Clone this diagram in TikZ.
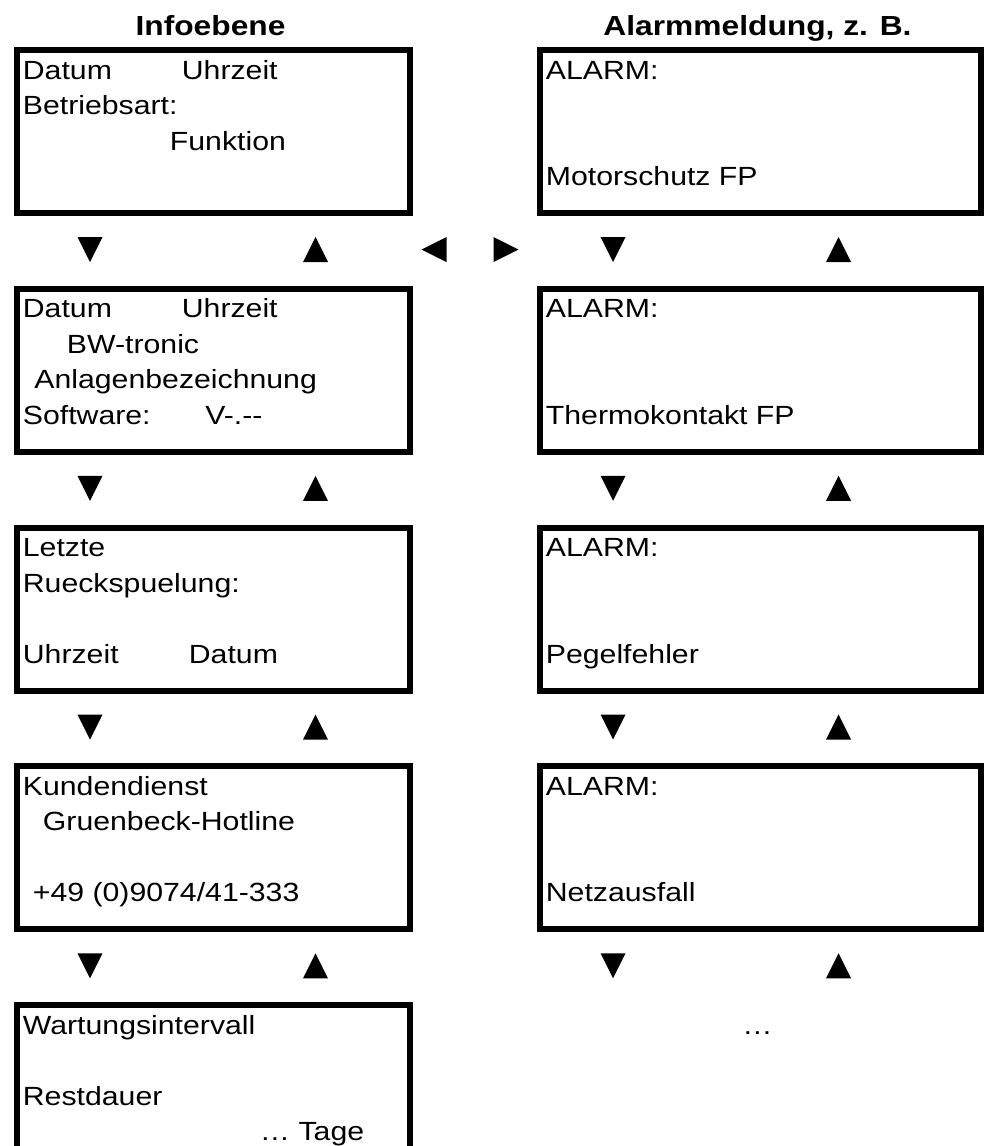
\documentclass[tikz,border=0pt]{standalone}
\usepackage{fontspec}
\setmainfont{Liberation Sans}[FakeStretch=1.15]

\tikzset{
  screen/.style={draw, line width=3pt, minimum width=196.5pt, minimum height=81.5pt, inner sep=0pt, anchor=north west},
  widescreen/.style={screen, minimum width=220.5pt},
  txt/.style={anchor=base west, inner sep=0pt, font=\fontsize{13.15}{15}\selectfont},
  head/.style={anchor=base, inner sep=0pt, font=\fontsize{13.8}{16}\selectfont\bfseries},
  navdown/.pic={\fill (-12.5,-12.5) -- (12.5,-12.5) -- (0,12.5) -- cycle;},
  navup/.pic={\fill (-12.5,12.5) -- (12.5,12.5) -- (0,-12.5) -- cycle;},
  navleft/.pic={\fill (12.5,-12.5) -- (12.5,12.5) -- (-12.5,0) -- cycle;},
  navright/.pic={\fill (-12.5,-12.5) -- (-12.5,12.5) -- (12.5,0) -- cycle;}
}
% one text line of a display: name, display, line number, text
\newcommand\scrline[4]{\node[txt] (#1) at ([shift={(8.5,{32+35.5*(#3-1)})}]#2.north west) {#4};}

\begin{document}
\begin{tikzpicture}[x=0.5pt, y=-0.5pt]
  \useasboundingbox (0,0) rectangle (984,1146);
  \clip (0,0) rectangle (984,1146);

  \node[head] (infohead) at (210.5,35) {Infoebene};
  \node[head] (alarmhead) at (757.5,35) {Alarmmeldung, z. B.};

  % Infoebene
  \node[screen] (info1) at (14,47) {};
  \node[screen] (info2) at (14,285.75) {};
  \node[screen] (info3) at (14,524.5) {};
  \node[screen] (info4) at (14,763.25) {};
  \node[screen] (info5) at (14,1002) {};

  \scrline{i1a}{info1}{1}{\makebox[79.5pt][l]{Datum}Uhrzeit}
  \scrline{i1b}{info1}{2}{Betriebsart:}
  \scrline{i1c}{info1}{3}{\hspace*{73.5pt}Funktion}

  \scrline{i2a}{info2}{1}{\makebox[79.5pt][l]{Datum}Uhrzeit}
  \scrline{i2b}{info2}{2}{\hspace*{22pt}BW-tronic}
  \scrline{i2c}{info2}{3}{\hspace*{5.75pt}Anlagenbezeichnung}
  \scrline{i2d}{info2}{4}{\makebox[91.25pt][l]{Software:}V-.-{}-}

  \scrline{i3a}{info3}{1}{Letzte}
  \scrline{i3b}{info3}{2}{Rueckspuelung:}
  \scrline{i3d}{info3}{4}{\makebox[83pt][l]{Uhrzeit}Datum}

  \scrline{i4a}{info4}{1}{Kundendienst}
  \scrline{i4b}{info4}{2}{\hspace*{10pt}Gruenbeck-Hotline}
  \scrline{i4d}{info4}{4}{\hspace*{5pt}+49 (0)9074/41-333}

  \scrline{i5a}{info5}{1}{Wartungsintervall}
  \scrline{i5c}{info5}{3}{Restdauer}
  \scrline{i5d}{info5}{4}{\hspace*{118.5pt}… Tage}

  % Alarmmeldungen
  \node[widescreen] (alarm1) at (537,47) {};
  \node[widescreen] (alarm2) at (537,285.75) {};
  \node[widescreen] (alarm3) at (537,524.5) {};
  \node[widescreen] (alarm4) at (537,763.25) {};

  \scrline{a1a}{alarm1}{1}{ALARM:}
  \scrline{a1d}{alarm1}{4}{Motorschutz FP}
  \scrline{a2a}{alarm2}{1}{ALARM:}
  \scrline{a2d}{alarm2}{4}{Thermokontakt FP}
  \scrline{a3a}{alarm3}{1}{ALARM:}
  \scrline{a3d}{alarm3}{4}{Pegelfehler}
  \scrline{a4a}{alarm4}{1}{ALARM:}
  \scrline{a4d}{alarm4}{4}{Netzausfall}
  \node[txt, anchor=base] (alarmmore) at (757.5,1034) {…};

  % Tasten
  \foreach \y [count=\i] in {249.5,488.25,727,965.75} {
    \pic (infodn\i) at (90,\y) {navdown};
    \pic (infoup\i) at (315.5,\y) {navup};
    \pic (alarmdn\i) at (613,\y) {navdown};
    \pic (alarmup\i) at (838.5,\y) {navup};
  }
  \pic (keyleft) at (434,249.5) {navleft};
  \pic (keyright) at (506,249.5) {navright};
\end{tikzpicture}
\end{document}
